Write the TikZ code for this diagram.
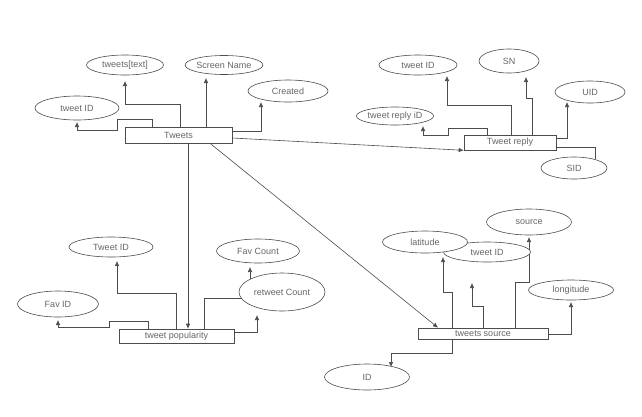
\documentclass[tikz,border=0pt]{standalone}
\usepackage{fontspec}
\setmainfont{Liberation Sans}
\usetikzlibrary{shapes.geometric,arrows.meta,backgrounds}
\tikzset{
  ent/.style={draw=black!70, line width=0.6pt, fill=white, rectangle, inner sep=0pt, font=\fontsize{9}{10}\selectfont, text=black!60},
  attr/.style={draw=black!70, line width=0.6pt, fill=white, ellipse, inner sep=0pt, font=\fontsize{9}{10}\selectfont, text=black!60},
  conn/.style={draw=black!70, line width=0.6pt},
  arr/.style={conn, -{Latex[length=5pt,width=4.5pt]}}
}
\begin{document}
\begin{tikzpicture}[x=1pt,y=-1pt]
\useasboundingbox (0,0) rectangle (642,416);
% Tweets
\node[ent, minimum width=107pt, minimum height=16pt] (tw) at (178.5,135) {Tweets};
\node[attr, minimum width=77pt, minimum height=20pt] (e1) at (125,65) {tweets[text]};
\node[attr, minimum width=72pt, minimum height=19pt] (e2) at (224,65) {Screen Name};
\node[attr, minimum width=80pt, minimum height=22pt] (e3) at (288,91) {Created};
\node[attr, minimum width=84pt, minimum height=24pt] (e4) at (77,108) {tweet ID};
% Tweet reply
\node[ent, minimum width=92pt, minimum height=15pt] (tr) at (510,142.5) {Tweet reply};
\node[attr, minimum width=78pt, minimum height=20pt] (e5) at (418,65) {tweet ID};
\node[attr, minimum width=60pt, minimum height=24pt] (e6) at (509,61) {SN};
\node[attr, minimum width=70pt, minimum height=22pt] (e7) at (590,92) {UID};
\node[attr, minimum width=77pt, minimum height=18pt] (e8) at (395,116) {tweet reply iD};
\node[attr, minimum width=66pt, minimum height=22pt] (e9) at (574,168) {SID};
% tweet popularity
\node[ent, minimum width=115pt, minimum height=14pt] (tp) at (176.5,336) {tweet popularity};
\node[attr, minimum width=84pt, minimum height=20pt] (e10) at (111,247) {Tweet ID};
\node[attr, minimum width=81pt, minimum height=26pt] (e11) at (58,304) {Fav ID};
\node[attr, minimum width=83pt, minimum height=24pt] (e12) at (258,251) {Fav Count};
\node[attr, minimum width=86pt, minimum height=38pt] (e13) at (282,292) {retweet Count};
% tweets source
\node[ent, minimum width=130pt, minimum height=11pt] (ts) at (483,333.5) {tweets source};
\node[attr, minimum width=87pt, minimum height=20pt] (e15) at (487,252) {tweet ID};
\node[attr, minimum width=85pt, minimum height=22pt] (e14) at (425,242) {latitude};
\node[attr, minimum width=85pt, minimum height=26pt] (e16) at (529,222) {source};
\node[attr, minimum width=85pt, minimum height=20pt] (e17) at (571,290) {longitude};
\node[attr, minimum width=85pt, minimum height=26pt] (e18) at (367,377) {ID};

\begin{pgfonlayer}{background}
% Tweets connectors
\draw[arr] (tw.north -| 152,0) |- (117,119) |- (77,130) -- (77,122);
\draw[arr] (tw.north -| 180,0) |- (125,104) -- (125,81);
\draw[arr] (tw.north -| 206,0) -- (206,78);
\draw[arr] (tw.east |- 0,131) -| (261,102);
\draw[arr] (tw.east |- 0,138) -- (tr.south west);
\draw[arr] (tw.south -| 188,0) -- (tp.north -| 188,0);
\draw[arr] (tw.south -| 210,0) -- (ts.north -| 438,0);
% Tweet reply connectors
\draw[arr] (tr.north -| 487,0) |- (448,128) |- (423,135) -- (423,126);
\draw[arr] (tr.north -| 511,0) |- (447,105) -- (447,76);
\draw[arr] (tr.north -| 532,0) |- (526,98) -- (526,77);
\draw[arr] (tr.east |- 0,138) -| (567,102);
\draw[conn] (tr.east |- 0,147) -| (595,159);
% tweet popularity connectors
\draw[arr] (tp.north -| 148,0) |- (109,321) |- (58,327) -- (58,320);
\draw[arr] (tp.north -| 176,0) |- (117,293) -- (117,261);
\draw[arr] (tp.north -| 204,0) |- (250,298) -- (250,267);
\draw[arr] (tp.east |- 0,332) -| (257,315);
% tweets source connectors
\draw[arr] (ts.north -| 452,0) |- (443,292) -- (443,257);
\draw[arr] (ts.north -| 483,0) |- (472,306) -- (472,283);
\draw[arr] (ts.north -| 515,0) |- (529,282) -- (529,237);
\draw[arr] (ts.east |- 0,334) -| (571,302);
\draw[arr] (ts.south -| 452,0) |- (391,353) -- (391,367);
\end{pgfonlayer}
\end{tikzpicture}
\end{document}
